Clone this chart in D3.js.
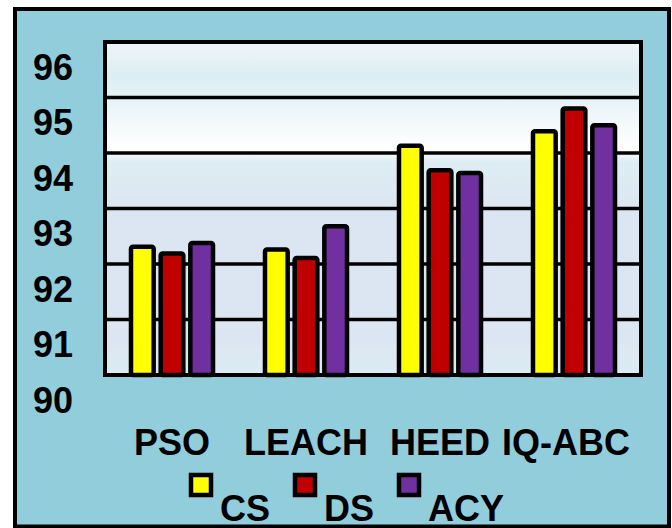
<!DOCTYPE html>
<html><head><meta charset="utf-8">
<script src="https://cdn.jsdelivr.net/npm/d3@7"></script>
<style>body{margin:0;background:#fff}svg{display:block}text{font-family:"Liberation Sans",Arial,sans-serif;font-weight:bold;fill:#000}</style>
</head><body>
<script>
const categories = ["PSO","LEACH","HEED","IQ-ABC"];
const seriesNames = ["CS","DS","ACY"];
const seriesColors = ["#FFFF00","#C00000","#7030A0"];
const CS  = [92.31, 92.26, 94.13, 94.39];
const DS  = [92.19, 92.11, 93.69, 94.80];
const ACY = [92.38, 92.68, 93.64, 94.50];
const yTicks = [90,91,92,93,94,95,96];

const W=672,H=528;
const svg=d3.select("body").append("svg").attr("width",W).attr("height",H);
const defs=svg.append("defs");
const g=defs.append("linearGradient").attr("id","pg").attr("x1",0).attr("y1",0).attr("x2",0).attr("y2",1);
[[0,"#eef6f9"],[0.1,"#dcedf3"],[0.32,"#ffffff"],[0.36,"#deedf3"],[0.5,"#dce6f2"],[0.9,"#dce6f2"],[1,"#dcecf3"]]
 .forEach(([o,c])=>g.append("stop").attr("offset",o).attr("stop-color",c));

// outer background
svg.append("rect").attr("x",15).attr("y",9).attr("width",654).attr("height",517.5)
  .attr("fill","#92CDDC").attr("stroke","#000").attr("stroke-width",4);

const L=105,R=641,T=42,B=375;
const y=d3.scaleLinear().domain([90,96]).range([B,T]);
const x0=d3.scaleBand().domain(categories).range([L,R]).paddingInner(0.388).paddingOuter(0.194);
const x1=d3.scaleBand().domain(seriesNames).range([0,x0.bandwidth()]).paddingInner(0.236);

svg.append("rect").attr("x",L).attr("y",T).attr("width",R-L).attr("height",B-T).attr("fill","url(#pg)");

// gridlines
svg.append("g").selectAll("line").data(yTicks).join("line")
  .attr("x1",L).attr("x2",R).attr("y1",d=>y(d)).attr("y2",d=>y(d))
  .attr("stroke","#000").attr("stroke-width",3.5);

// bars
const data=[CS,DS,ACY];
const gg=svg.append("g").selectAll("g").data(categories).join("g")
  .attr("transform",d=>`translate(${x0(d)},0)`);
gg.selectAll("rect").data((d,i)=>seriesNames.map((s,j)=>({s,j,v:data[j][i]}))).join("rect")
  .attr("x",d=>x1(d.s)).attr("width",x1.bandwidth())
  .attr("y",d=>y(d.v)).attr("height",d=>y(90)-y(d.v))
  .attr("rx",2).attr("fill",d=>seriesColors[d.j]).attr("stroke","#000").attr("stroke-width",4.5)
  .attr("stroke-linejoin","round");

// plot frame
svg.append("rect").attr("x",L).attr("y",T).attr("width",R-L).attr("height",B-T)
  .attr("fill","none").attr("stroke","#000").attr("stroke-width",4);

// y labels
svg.append("g").selectAll("text").data(yTicks).join("text")
  .attr("x",73).attr("y",d=>y(d)+25).attr("dy","0.36em").attr("text-anchor","end")
  .attr("font-size",36).text(d=>d);

// category labels (last one nudged left to stay inside the frame, as in the original)
svg.append("g").selectAll("text").data(categories).join("text")
  .attr("x",(d,i)=>x0(d)+x0.bandwidth()/2+(i===categories.length-1?-8:0)).attr("y",455).attr("text-anchor","middle")
  .attr("font-size",36).text(d=>d);

// legend
const lx=[201,305,409];
const lg=svg.append("g").selectAll("g").data(seriesNames).join("g")
  .attr("transform",(d,i)=>`translate(${lx[i]},0)`);
lg.append("rect").attr("x",-10).attr("y",475).attr("width",20).attr("height",20)
  .attr("fill",(d,i)=>seriesColors[i]).attr("stroke","#000").attr("stroke-width",4.5);
lg.append("text").attr("x",19).attr("y",521).attr("font-size",36).text(d=>d);
</script>
</body></html>
